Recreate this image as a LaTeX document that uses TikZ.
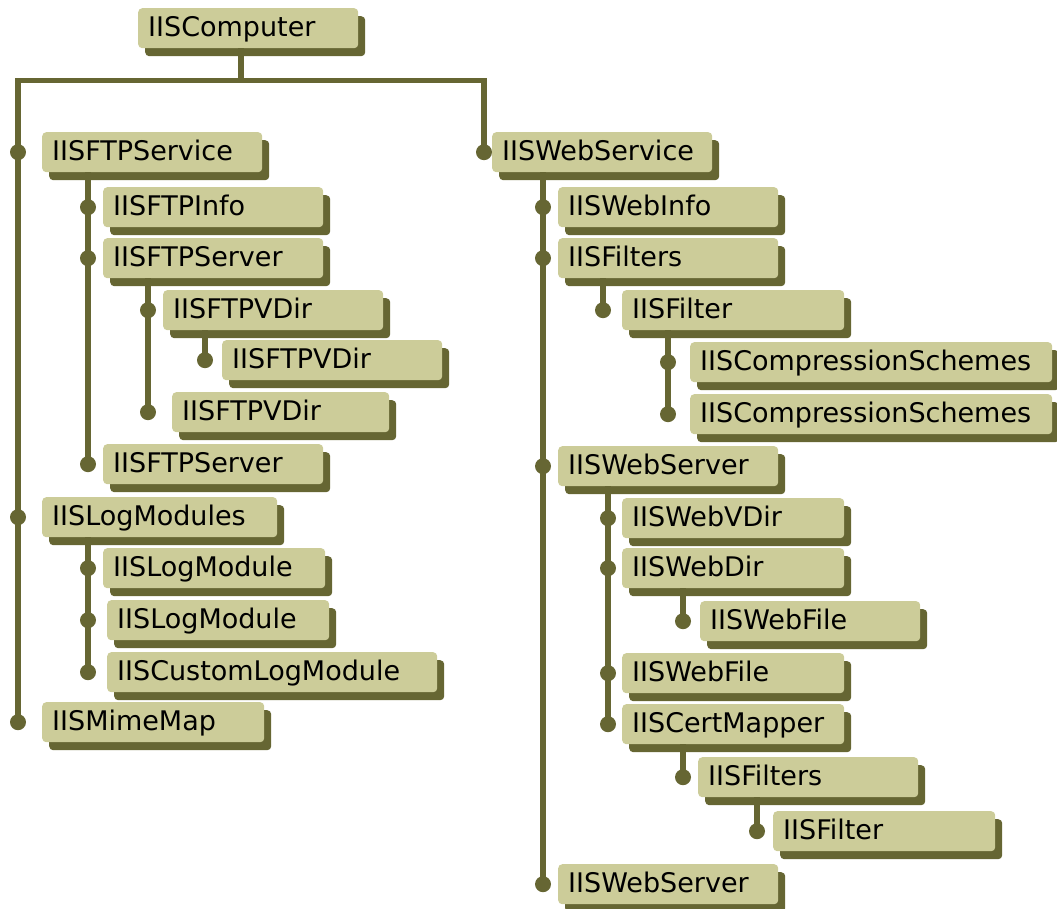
\documentclass[tikz,border=0pt]{standalone}
\usepackage{fontspec}
\setmainfont{DejaVu Sans}
\usetikzlibrary{shadows}

\definecolor{boxface}{RGB}{204,204,153}
\definecolor{iisline}{RGB}{102,102,51}

\begin{document}
\begin{tikzpicture}[x=1pt, y=-1pt,
    iisobj/.style={anchor=north west, fill=boxface, rounded corners=4pt,
        inner xsep=10pt, inner ysep=8pt, text height=20pt, text depth=4pt,
        text width=#1, align=left, font=\fontsize{27}{30}\selectfont,
        drop shadow={shadow xshift=7pt, shadow yshift=-8pt, fill=iisline, opacity=1}},
    iisobj/.default=200pt,
    wire/.style={draw=iisline, line width=5.5pt, line join=miter},
    dot/.style={fill=iisline},
]
\useasboundingbox (0,0) rectangle (1057,909);

% root
\node[iisobj] (computer) at (138,8) {IISComputer};

% ftp side
\node[iisobj] (ftpsvc) at (42,132) {IISFTPService};
\node[iisobj] (ftpinfo) at (103,187) {IISFTPInfo};
\node[iisobj] (ftpsrv1) at (103,238) {IISFTPServer};
\node[iisobj] (vdir1) at (163,290) {IISFTPVDir};
\node[iisobj] (vdir2) at (222,340) {IISFTPVDir};
\node[iisobj=197pt] (vdir3) at (172,392) {IISFTPVDir};
\node[iisobj] (ftpsrv2) at (103,444) {IISFTPServer};
\node[iisobj=215pt] (logmods) at (42,497) {IISLogModules};
\node[iisobj=202pt] (logmod1) at (103,548) {IISLogModule};
\node[iisobj=202pt] (logmod2) at (107,600) {IISLogModule};
\node[iisobj=310pt] (customlog) at (107,652) {IISCustomLogModule};
\node[iisobj=202pt] (mimemap) at (42,702) {IISMimeMap};

% web side
\node[iisobj] (websvc) at (492,132) {IISWebService};
\node[iisobj] (webinfo) at (558,187) {IISWebInfo};
\node[iisobj] (filters1) at (558,238) {IISFilters};
\node[iisobj=202pt] (filter1) at (622,290) {IISFilter};
\node[iisobj=342pt] (comp1) at (690,342) {IISCompressionSchemes};
\node[iisobj=342pt] (comp2) at (690,394) {IISCompressionSchemes};
\node[iisobj] (websrv1) at (558,446) {IISWebServer};
\node[iisobj=202pt] (webvdir) at (622,498) {IISWebVDir};
\node[iisobj=202pt] (webdir) at (622,548) {IISWebDir};
\node[iisobj] (webfile1) at (700,601) {IISWebFile};
\node[iisobj=202pt] (webfile2) at (622,653) {IISWebFile};
\node[iisobj=202pt] (certmap) at (622,704) {IISCertMapper};
\node[iisobj] (filters2) at (698,757) {IISFilters};
\node[iisobj=202pt] (filter2) at (773,811) {IISFilter};
\node[iisobj] (websrv2) at (558,864) {IISWebServer};

% bus under the root
\coordinate (drop) at ([xshift=-7pt]computer.south);
\coordinate (bus) at ([yshift=-32pt]drop);
\coordinate (trunkL) at (18,0);
\coordinate (trunkR) at (484,0);
\draw[wire] (drop) -- (bus);
\draw[wire] (trunkL |- mimemap.west) -- (trunkL |- bus) -- (trunkR |- bus) -- (trunkR |- websvc.west);
\foreach \c in {ftpsvc, logmods, mimemap}
    \fill[dot] (trunkL |- \c.west) circle (8pt);
\fill[dot] (trunkR |- websvc.west) circle (8pt);

% trunks: parent/offset/last child/children
\foreach \p/\dx/\last/\kids in {
    ftpsvc/46/ftpsrv2/{ftpinfo,ftpsrv1,ftpsrv2},
    ftpsrv1/45/vdir3/{vdir1,vdir3},
    vdir1/42/vdir2/{vdir2},
    logmods/46/customlog/{logmod1,logmod2,customlog},
    websvc/51/websrv2/{webinfo,filters1,websrv1,websrv2},
    filters1/45/filter1/{filter1},
    filter1/46/comp2/{comp1,comp2},
    websrv1/50/certmap/{webvdir,webdir,webfile2,certmap},
    webdir/61/webfile1/{webfile1},
    certmap/61/filters2/{filters2},
    filters2/59/filter2/{filter2}} {
    \coordinate (\p-t) at ([xshift=\dx pt]\p.south west);
    \draw[wire] (\p-t) -- (\p-t |- \last.west);
    \foreach \c in \kids
        \fill[dot] (\p-t |- \c.west) circle (8pt);
}
\end{tikzpicture}
\end{document}
